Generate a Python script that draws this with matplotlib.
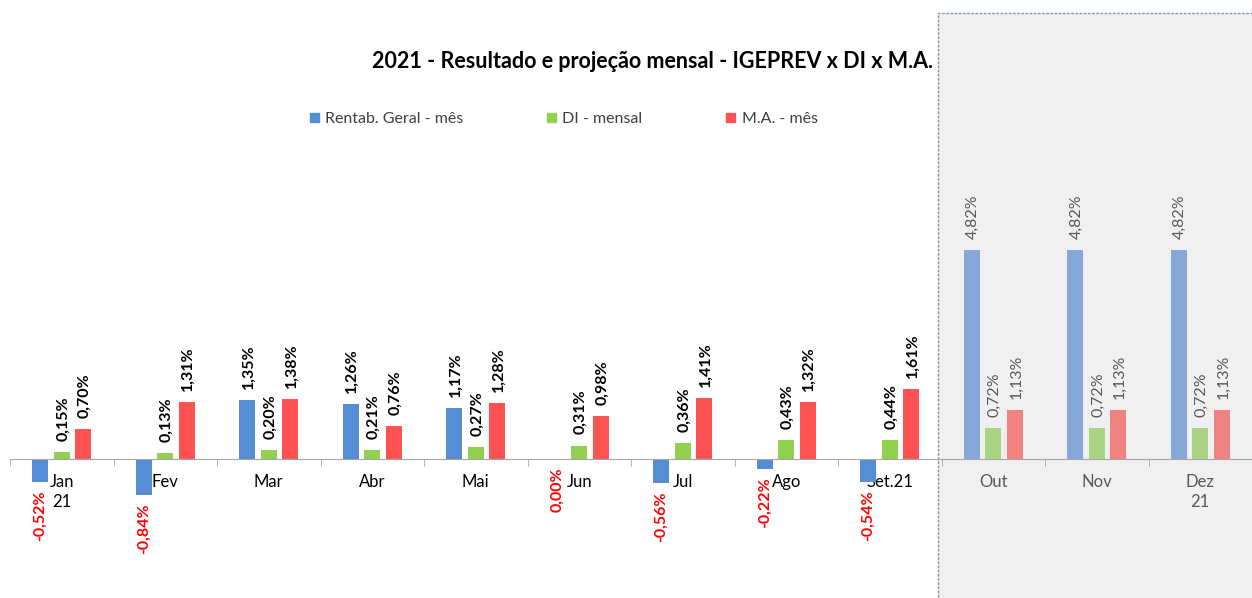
import matplotlib
matplotlib.use("Agg")
import matplotlib.pyplot as plt
from matplotlib.patches import Rectangle
import numpy as np

plt.rcParams['font.family'] = ['Lato', 'DejaVu Sans']

# monthly data (Jan-Set realised, Out-Dez projected)
months = ['Jan\n21', 'Fev', 'Mar', 'Abr', 'Mai', 'Jun', 'Jul', 'Ago', 'Set.21', 'Out', 'Nov', 'Dez\n21']
rentab = [-0.52, -0.84, 1.35, 1.26, 1.17, -0.004, -0.56, -0.22, -0.54, 4.82, 4.82, 4.82]
di = [0.15, 0.13, 0.20, 0.21, 0.27, 0.31, 0.36, 0.43, 0.44, 0.72, 0.72, 0.72]
ma = [0.70, 1.31, 1.38, 0.76, 1.28, 0.98, 1.41, 1.32, 1.61, 1.13, 1.13, 1.13]
series_names = ['Rentab. Geral - mês', 'DI - mensal', 'M.A. - mês']
n_real = 9

real_colors = ['#558ED5', '#92D050', '#FF5353']
proj_colors = ['#86A8D8', '#AAD484', '#F18282']

W, H = 1252, 598
fig = plt.figure(figsize=(W / 100, H / 100), dpi=100)
ax = fig.add_axes([10 / W, 0, 1242 / W, 1])
ax.patch.set_alpha(0)

px_per_unit = 43.4
ax.set_xlim(-0.5, len(months) - 0.5)
ax.set_ylim(-(H - 459) / px_per_unit, 459 / px_per_unit)

# shaded projection area
top = (459 - 13) / px_per_unit
ax.add_patch(Rectangle((8.47, -4), 4, top + 4, facecolor='#F0F0F0', edgecolor='#8496B0',
                       lw=1.0, linestyle=(0, (2, 1)), zorder=0, clip_on=False))

x = np.arange(len(months))
width = 0.155
step = 0.208
all_series = [rentab, di, ma]
for k, vals in enumerate(all_series):
    xs = x + (k - 1) * step
    cols = [real_colors[k] if i < n_real else proj_colors[k] for i in range(len(vals))]
    bars = ax.bar(xs, vals, width, color=cols, zorder=2)
    for i, v in enumerate(vals):
        txt = f"{abs(v):.2f}" if round(v, 2) == 0 else f"{v:.2f}"
        txt = txt.replace('.', ',') + '%'
        if i >= n_real:
            color, weight = '#595959', 'normal'
        elif v < 0:
            color, weight = '#FF0000', 'bold'
        else:
            color, weight = 'black', 'bold'
        if v >= 0:
            ax.annotate(txt, (xs[i], v), xytext=(1, 8), textcoords='offset points',
                        rotation=90, ha='center', va='bottom', fontsize=11.5,
                        color=color, fontweight=weight, zorder=3)
        else:
            ax.annotate(txt, (xs[i], v), xytext=(0, -6), textcoords='offset points',
                        rotation=90, ha='center', va='top', fontsize=11.5,
                        color=color, fontweight=weight, zorder=3)

# axis line at zero with category boundary ticks
for s in ['top', 'right', 'left']:
    ax.spines[s].set_visible(False)
ax.spines['bottom'].set_position(('data', 0))
ax.spines['bottom'].set_color('#A6A6A6')
ax.spines['bottom'].set_zorder(4)
ax.set_yticks([])
ax.set_xticks(x)
ax.set_xticklabels(months, fontsize=12, linespacing=1.3)
ax.set_xticks(np.arange(-0.5, len(months), 1), minor=True)
ax.tick_params(axis='x', which='major', length=0, pad=11)
ax.tick_params(axis='x', which='minor', length=5, color='#A6A6A6', direction='out')
for i, lab in enumerate(ax.get_xticklabels()):
    lab.set_color('black' if i < n_real else '#595959')

# title
fig.text(653 / W, 1 - 61 / H, '2021 - Resultado e projeção mensal - IGEPREV x DI x M.A.',
         ha='center', va='center', fontsize=15.5, fontweight='bold')

# legend
handles = [Rectangle((0, 0), 1, 1, color=c) for c in real_colors]
fig.legend(handles, series_names, loc='center left', bbox_to_anchor=(310 / W, 1 - 119 / H),
           ncol=3, frameon=False, fontsize=11.5, handlelength=0.55, handleheight=0.55,
           handletextpad=0.4, columnspacing=5.25, borderpad=0, borderaxespad=0,
           labelcolor='#404040')

fig.savefig('out.png', dpi=100)
